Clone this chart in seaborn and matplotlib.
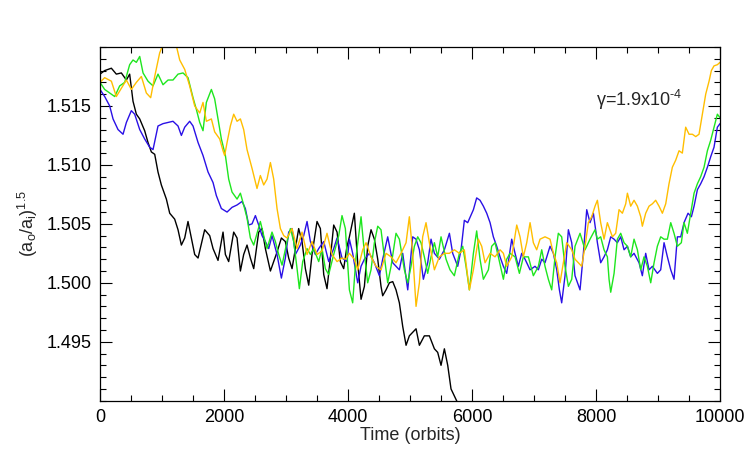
import matplotlib
matplotlib.use("Agg")
import matplotlib.pyplot as plt
import seaborn as sns
import pandas as pd
from matplotlib.ticker import MultipleLocator, FixedLocator, FormatStrFormatter

# ---------------- data ----------------
black_t = [0, 75, 183, 263, 344, 425, 478, 532, 586, 640, 720, 774, 828, 882, 935, 989, 1070, 1124, 1204, 1258,
           1312, 1366, 1419, 1473, 1527, 1581, 1688, 1769, 1823, 1903, 1984, 2022, 2075, 2156, 2210, 2264, 2317,
           2371, 2425, 2479, 2559, 2613, 2667, 2748, 2801, 2855, 2925, 2989, 3043, 3097, 3151, 3204, 3258, 3312,
           3366, 3419, 3500, 3554, 3608, 3661, 3715, 3769, 3823, 3876, 3930, 3980, 4022, 4102, 4156, 4210, 4264,
           4317, 4371, 4425, 4479, 4532, 4559, 4613, 4667, 4721, 4774, 4828, 4882, 4936, 4989, 5043, 5097, 5151,
           5231, 5312, 5393, 5446, 5500, 5554, 5608, 5661, 5715, 5760, 5800]
black_v = [1.5177, 1.5180, 1.5182, 1.5177, 1.5178, 1.5172, 1.5177, 1.5154, 1.5143, 1.5139, 1.5129, 1.5119, 1.5111,
           1.5109, 1.5094, 1.5083, 1.5071, 1.5059, 1.5054, 1.5045, 1.5032, 1.5038, 1.5052, 1.5038, 1.5024, 1.5021,
           1.5045, 1.5040, 1.5029, 1.5019, 1.5043, 1.5024, 1.5018, 1.5043, 1.5038, 1.5010, 1.5024, 1.5032, 1.5021,
           1.5012, 1.5043, 1.5046, 1.5029, 1.5010, 1.5018, 1.5026, 1.5038, 1.5035, 1.5021, 1.5012, 1.5029, 1.5046,
           1.5035, 1.5012, 1.4998, 1.5024, 1.5052, 1.5046, 1.5007, 1.4995, 1.5021, 1.5049, 1.5043, 1.5018, 1.5012,
           1.5030, 1.5039, 1.5059, 1.5017, 1.4986, 1.4997, 1.5031, 1.5045, 1.5037, 1.5020, 1.4997, 1.4989, 1.4994,
           1.5000, 1.5001, 1.4994, 1.4983, 1.4963, 1.4947, 1.4955, 1.4958, 1.4961, 1.4947, 1.4955, 1.4955, 1.4944,
           1.4941, 1.4930, 1.4944, 1.4930, 1.4910, 1.4904, 1.4899, 1.4890]

blue_t = [0, 75, 156, 210, 290, 371, 425, 505, 559, 640, 720, 801, 855, 935, 1016, 1097, 1177, 1258, 1312, 1366,
          1446, 1500, 1581, 1661, 1742, 1823, 1876, 1957, 2049, 2129, 2210, 2291, 2344, 2398, 2452, 2506, 2559,
          2613, 2667, 2721, 2774, 2855, 2925, 2989, 3043, 3097, 3151, 3231, 3285, 3339, 3393, 3473, 3527, 3608,
          3688, 3769, 3823, 3903, 3984, 4022, 4075, 4156, 4210, 4264, 4344, 4425, 4506, 4559, 4640, 4721, 4774,
          4828, 4882, 4963, 5043, 5097, 5151, 5215, 5285, 5339, 5393, 5473, 5554, 5635, 5688, 5769, 5823, 5876,
          5930, 6022, 6075, 6129, 6183, 6237, 6291, 6344, 6398, 6452, 6506, 6559, 6640, 6694, 6747, 6801, 6855,
          6936, 7016, 7070, 7124, 7177, 7258, 7312, 7366, 7409, 7446, 7500, 7554, 7608, 7661, 7742, 7796, 7850,
          7903, 7957, 8022, 8075, 8129, 8183, 8237, 8291, 8344, 8398, 8452, 8506, 8559, 8613, 8694, 8747, 8801,
          8855, 8909, 8989, 9043, 9097, 9151, 9205, 9258, 9312, 9366, 9419, 9484, 9538, 9581, 9635, 9688, 9742,
          9796, 9850, 9903, 9957, 10000]
blue_v = [1.5164, 1.5158, 1.5150, 1.5139, 1.5130, 1.5126, 1.5136, 1.5146, 1.5143, 1.5130, 1.5122, 1.5115, 1.5113,
          1.5133, 1.5135, 1.5136, 1.5137, 1.5133, 1.5125, 1.5132, 1.5137, 1.5133, 1.5119, 1.5108, 1.5094, 1.5085,
          1.5074, 1.5063, 1.5060, 1.5064, 1.5066, 1.5069, 1.5063, 1.5049, 1.5050, 1.5057, 1.5049, 1.5040, 1.5035,
          1.5029, 1.5040, 1.5024, 1.5004, 1.5021, 1.5043, 1.5046, 1.5024, 1.5032, 1.5040, 1.5052, 1.5035, 1.5024,
          1.5029, 1.5035, 1.5018, 1.5029, 1.5038, 1.5021, 1.5018, 1.5037, 1.5025, 1.5000, 1.5014, 1.5020, 1.5025,
          1.5017, 1.5006, 1.5020, 1.5039, 1.5017, 1.5014, 1.5011, 1.5025, 1.4994, 1.5039, 1.5037, 1.5028, 1.5003,
          1.5017, 1.5037, 1.5025, 1.5020, 1.5028, 1.5042, 1.5025, 1.5014, 1.5028, 1.5053, 1.5051, 1.5062, 1.5072,
          1.5070, 1.5065, 1.5059, 1.5051, 1.5039, 1.5031, 1.5022, 1.5014, 1.5008, 1.5037, 1.5025, 1.5014, 1.5025,
          1.5020, 1.5011, 1.5014, 1.5011, 1.5020, 1.5017, 1.5031, 1.5025, 1.5011, 1.4994, 1.4983, 1.5006, 1.5045,
          1.5034, 1.5006, 1.4994, 1.5025, 1.5062, 1.5051, 1.5059, 1.5034, 1.5017, 1.5022, 1.5028, 1.5039, 1.5037,
          1.5034, 1.5039, 1.5028, 1.5031, 1.5022, 1.5025, 1.5017, 1.5006, 1.5025, 1.5011, 1.5014, 1.5008, 1.5011,
          1.5034, 1.5022, 1.5011, 1.5003, 1.5039, 1.5039, 1.5051, 1.5059, 1.5056, 1.5065, 1.5079, 1.5084, 1.5090,
          1.5098, 1.5107, 1.5115, 1.5132, 1.5135]

green_t = [0, 75, 156, 237, 317, 398, 478, 532, 586, 640, 694, 774, 855, 935, 1016, 1097, 1177, 1258, 1339, 1419,
           1500, 1554, 1608, 1661, 1715, 1796, 1849, 1903, 1957, 2022, 2075, 2129, 2210, 2264, 2317, 2371, 2425,
           2479, 2532, 2586, 2640, 2694, 2774, 2828, 2882, 2936, 3016, 3070, 3124, 3178, 3215, 3269, 3339, 3393,
           3446, 3527, 3581, 3634, 3688, 3769, 3850, 3903, 3957, 4022, 4075, 4129, 4210, 4264, 4317, 4371, 4425,
           4479, 4532, 4586, 4640, 4694, 4774, 4828, 4909, 4963, 5016, 5070, 5124, 5177, 5231, 5285, 5339, 5393,
           5446, 5500, 5581, 5645, 5715, 5796, 5850, 5903, 5957, 6022, 6075, 6129, 6183, 6264, 6317, 6371, 6425,
           6506, 6559, 6613, 6694, 6764, 6828, 6909, 6989, 7070, 7124, 7177, 7231, 7285, 7339, 7392, 7446, 7500,
           7554, 7608, 7661, 7742, 7823, 7903, 7984, 8022, 8075, 8129, 8183, 8210, 8237, 8291, 8344, 8398, 8452,
           8506, 8559, 8613, 8667, 8721, 8774, 8828, 8882, 8936, 8989, 9043, 9097, 9151, 9205, 9258, 9312, 9376,
           9419, 9473, 9527, 9581, 9635, 9688, 9742, 9796, 9850, 9903, 9957, 10000]
green_v = [1.5170, 1.5164, 1.5161, 1.5158, 1.5167, 1.5170, 1.5185, 1.5189, 1.5187, 1.5192, 1.5178, 1.5171, 1.5167,
           1.5177, 1.5168, 1.5172, 1.5172, 1.5177, 1.5178, 1.5174, 1.5157, 1.5147, 1.5136, 1.5129, 1.5153, 1.5164,
           1.5156, 1.5139, 1.5122, 1.5108, 1.5088, 1.5077, 1.5071, 1.5076, 1.5066, 1.5055, 1.5038, 1.5032, 1.5042,
           1.5052, 1.5040, 1.5029, 1.5043, 1.5035, 1.5024, 1.5015, 1.5035, 1.5046, 1.5035, 1.5012, 1.4995, 1.5018,
           1.5029, 1.5024, 1.5029, 1.5018, 1.5029, 1.5012, 1.5007, 1.5024, 1.5040, 1.5057, 1.5046, 1.4994, 1.4983,
           1.5022, 1.5056, 1.5025, 1.5000, 1.5011, 1.5034, 1.5048, 1.5045, 1.5022, 1.5000, 1.5014, 1.5042, 1.5037,
           1.5011, 1.5000, 1.5014, 1.5031, 1.5039, 1.5034, 1.5022, 1.5008, 1.5022, 1.5034, 1.5022, 1.5039, 1.5020,
           1.5011, 1.5006, 1.5025, 1.5031, 1.5014, 1.4994, 1.5025, 1.5044, 1.5020, 1.5003, 1.5011, 1.5031, 1.5034,
           1.5022, 1.5003, 1.5020, 1.5025, 1.5022, 1.5008, 1.5022, 1.5022, 1.5006, 1.5014, 1.5028, 1.5014, 1.5003,
           1.4994, 1.5022, 1.5042, 1.5039, 1.5014, 1.4997, 1.5003, 1.5031, 1.5042, 1.5028, 1.5037, 1.5045, 1.5037,
           1.5039, 1.5028, 1.5022, 1.5003, 1.4992, 1.5008, 1.5037, 1.5042, 1.5034, 1.5031, 1.5022, 1.5037, 1.5028,
           1.5011, 1.5022, 1.5014, 1.5000, 1.5017, 1.5031, 1.5039, 1.5037, 1.5037, 1.5051, 1.5042, 1.5031, 1.5034,
           1.5051, 1.5042, 1.5059, 1.5076, 1.5084, 1.5090, 1.5098, 1.5112, 1.5121, 1.5132, 1.5143, 1.5140]

orange_t = [0, 75, 183, 263, 344, 425, 505, 586, 667, 747, 817, 882, 962, 1016, 1124, 1231, 1285, 1366, 1446, 1527,
            1608, 1661, 1715, 1796, 1849, 1930, 1984, 2010, 2049, 2102, 2156, 2210, 2264, 2317, 2371, 2452, 2532,
            2586, 2640, 2694, 2748, 2801, 2855, 2909, 2963, 3016, 3097, 3178, 3258, 3339, 3419, 3500, 3581, 3661,
            3742, 3823, 3903, 3960, 4022, 4102, 4156, 4237, 4291, 4371, 4452, 4532, 4613, 4694, 4774, 4855, 4936,
            4989, 5043, 5097, 5151, 5204, 5258, 5312, 5393, 5473, 5554, 5635, 5715, 5796, 5876, 5957, 6022, 6102,
            6156, 6210, 6291, 6371, 6452, 6506, 6559, 6640, 6721, 6774, 6828, 6882, 6936, 6989, 7043, 7097, 7177,
            7258, 7312, 7366, 7419, 7473, 7527, 7608, 7661, 7715, 7769, 7823, 7876, 7930, 7984, 8022, 8075, 8129,
            8183, 8264, 8317, 8371, 8425, 8479, 8506, 8559, 8613, 8667, 8721, 8747, 8801, 8855, 8909, 8962, 9016,
            9070, 9124, 9177, 9231, 9285, 9339, 9392, 9446, 9500, 9554, 9608, 9661, 9715, 9769, 9823, 9860, 9903,
            9957, 10000]
orange_v = [1.5170, 1.5174, 1.5171, 1.5158, 1.5165, 1.5172, 1.5164, 1.5170, 1.5175, 1.5161, 1.5157, 1.5175, 1.5195,
            1.5202, 1.5201, 1.5201, 1.5189, 1.5181, 1.5167, 1.5150, 1.5144, 1.5153, 1.5137, 1.5139, 1.5128, 1.5122,
            1.5112, 1.5108, 1.5119, 1.5133, 1.5143, 1.5137, 1.5139, 1.5130, 1.5113, 1.5097, 1.5080, 1.5091, 1.5083,
            1.5088, 1.5102, 1.5088, 1.5063, 1.5046, 1.5040, 1.5038, 1.5046, 1.5029, 1.5043, 1.5024, 1.5035, 1.5024,
            1.5027, 1.5042, 1.5024, 1.5018, 1.5021, 1.5020, 1.5025, 1.5020, 1.5011, 1.5028, 1.5034, 1.5022, 1.5014,
            1.5011, 1.5025, 1.5022, 1.5017, 1.5025, 1.5034, 1.5056, 1.5025, 1.4980, 1.5000, 1.5039, 1.5051, 1.5034,
            1.5011, 1.5022, 1.5025, 1.5025, 1.5028, 1.5025, 1.5028, 1.4994, 1.5011, 1.5037, 1.5031, 1.5017, 1.5025,
            1.5022, 1.5028, 1.5025, 1.5014, 1.5022, 1.5049, 1.5039, 1.5022, 1.5034, 1.5051, 1.5034, 1.5028, 1.5037,
            1.5039, 1.5037, 1.5025, 1.5017, 1.5000, 1.5017, 1.5034, 1.5028, 1.5020, 1.5017, 1.5014, 1.5031, 1.5051,
            1.5056, 1.5065, 1.5070, 1.5051, 1.5037, 1.5051, 1.5039, 1.5042, 1.5062, 1.5059, 1.5067, 1.5076, 1.5065,
            1.5070, 1.5065, 1.5056, 1.5048, 1.5059, 1.5065, 1.5067, 1.5070, 1.5065, 1.5059, 1.5067, 1.5084, 1.5098,
            1.5104, 1.5112, 1.5110, 1.5132, 1.5126, 1.5126, 1.5124, 1.5126, 1.5143, 1.5160, 1.5171, 1.5180, 1.5184,
            1.5185, 1.5187]

series_names = ["black", "blue", "green", "orange"]
series_colors = {"black": "#000000", "blue": "#2a10e6", "green": "#1ee61e", "orange": "#ffbe00"}
x_ticks = [0, 2000, 4000, 6000, 8000, 10000]
y_ticks = [1.495, 1.500, 1.505, 1.510, 1.515]
annotation = "\u03b3=1.9x10$^{\u20104}$"

# ---------------- style ----------------
sns.set_style("ticks")
plt.rcParams["font.family"] = ["Liberation Sans", "DejaVu Sans"]
plt.rcParams["mathtext.fontset"] = "custom"
plt.rcParams["mathtext.rm"] = "Liberation Sans"
plt.rcParams["mathtext.it"] = "Liberation Sans"
plt.rcParams["mathtext.bf"] = "Liberation Sans"

fig = plt.figure(figsize=(7.47, 4.49), dpi=100)
ax = fig.add_axes([0.1339, 0.1076, 0.830, 0.7877])

data = {
    "black": (black_t, black_v),
    "blue": (blue_t, blue_v),
    "green": (green_t, green_v),
    "orange": (orange_t, orange_v),
}
for name in series_names:
    t, v = data[name]
    df = pd.DataFrame({"t": t, "v": v})
    sns.lineplot(data=df, x="t", y="v", ax=ax, color=series_colors[name],
                 linewidth=1.0, sort=False, estimator=None)

ax.set_xlim(0, 10000)
ax.set_ylim(1.490, 1.520)
ax.xaxis.set_major_locator(FixedLocator(x_ticks))
ax.xaxis.set_minor_locator(MultipleLocator(500))
ax.yaxis.set_major_locator(FixedLocator(y_ticks))
ax.yaxis.set_minor_locator(MultipleLocator(0.001))
ax.yaxis.set_major_formatter(FormatStrFormatter("%.3f"))

ax.tick_params(which="both", direction="in", top=True, right=True, width=0.8, labelsize=13, colors="black")
ax.tick_params(which="major", length=8.5, pad=6)
ax.tick_params(which="minor", length=4)
for s in ax.spines.values():
    s.set_visible(True)
    s.set_linewidth(0.9)
    s.set_color("black")

ax.set_xlabel("Time (orbits)", fontsize=13, labelpad=1)
ax.set_ylabel(r"$(a_o/a_i)^{1.5}$", fontsize=13, labelpad=5)
ax.text(8000, 1.5155, annotation, fontsize=13, ha="left", va="center")

fig.savefig("out.png", dpi=100)
